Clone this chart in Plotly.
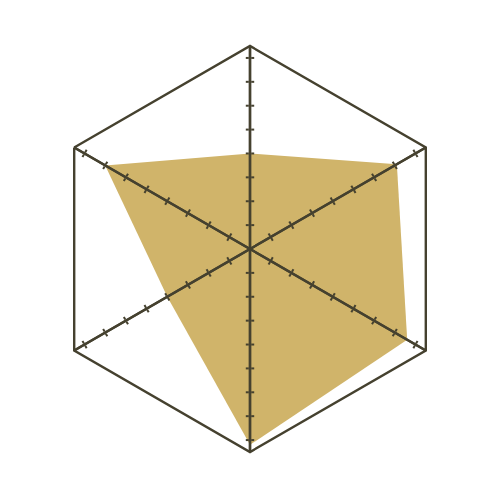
import plotly.graph_objects as go

categories = ["A", "B", "C", "D", "E", "F"]
values = [40, 71, 76, 82, 40, 70]
spoke_angles = [90, 30, -30, -90, -150, 150]
radial_max = 85
tick_values = [10, 20, 30, 40, 50, 60, 70, 80]

LINE = "#45412f"
FILL = "#d0b46a"

fig = go.Figure()
fig.add_trace(go.Scatterpolar(
    r=values + [values[0]], theta=categories + [categories[0]],
    fill="toself", fillcolor=FILL, mode="lines",
    line=dict(width=0, color=FILL), subplot="polar", hoverinfo="skip",
    showlegend=False))

domain = dict(x=[0, 1], y=[0, 1])
layout = dict(
    polar=dict(
        domain=domain, gridshape="linear", bgcolor="rgba(0,0,0,0)",
        radialaxis=dict(range=[0, radial_max], visible=False, showgrid=False),
        angularaxis=dict(type="category", rotation=90, direction="clockwise",
                         showline=True, linecolor=LINE, linewidth=2.4,
                         showgrid=False, ticks="", showticklabels=False),
    )
)

n = 2
for ang in spoke_angles:
    for side in ["outside", "inside"]:
        pid = f"polar{n}"
        fig.add_trace(go.Scatterpolar(r=[], theta=[], subplot=pid,
                                      showlegend=False, hoverinfo="skip"))
        layout[pid] = dict(
            domain=domain, bgcolor="rgba(0,0,0,0)",
            radialaxis=dict(range=[0, radial_max], angle=ang,
                            tickmode="array", tickvals=tick_values,
                            showline=True, linecolor=LINE,
                            linewidth=2.4, showgrid=False, ticks=side,
                            ticklen=3, tickwidth=2.4, tickcolor=LINE,
                            showticklabels=False),
            angularaxis=dict(visible=False, showgrid=False),
        )
        n += 1

fig.update_layout(**layout)
fig.update_layout(width=500, height=500, paper_bgcolor="white",
                  plot_bgcolor="white",
                  margin=dict(l=39, r=55, t=38, b=56), showlegend=False)
fig.write_html("out.html")
